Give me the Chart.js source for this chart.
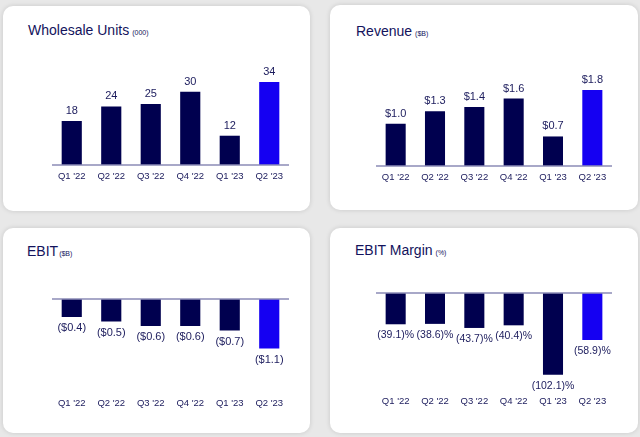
<!DOCTYPE html>
<html>
<head>
<meta charset="utf-8">
<script src="https://cdn.jsdelivr.net/npm/chart.js@4.4.0/dist/chart.umd.min.js"></script>
<style>
    body { margin: 0; width: 640px; height: 437px; background: #e8e8e8; overflow: hidden;
           font-family: "Liberation Sans", Arial, sans-serif; }
    .card { position: absolute; background: #fff; border-radius: 10px; box-shadow: 0 0 5px rgba(0,0,0,0.14); }
    .card canvas { position: absolute; left: 0; top: 0; }
    .title { position: absolute; font-size: 14px; line-height: 16px; color: #13135c; white-space: nowrap; }
    .title small { font-size: 7px; margin-left: 3px; }
</style>
</head>
<body>
<div class="card" style="left:3px;top:6px;width:307px;height:205px">
    <div class="title" style="left:25px;top:16px">Wholesale Units<small>(000)</small></div>
    <canvas id="units" width="307" height="205"></canvas>
</div>
<div class="card" style="left:330px;top:5px;width:308px;height:205px">
    <div class="title" style="left:26px;top:18px">Revenue<small>($B)</small></div>
    <canvas id="revenue" width="308" height="205"></canvas>
</div>
<div class="card" style="left:3px;top:228px;width:307px;height:205px">
    <div class="title" style="left:24px;top:15px">EBIT<small style="margin-left:1px">($B)</small></div>
    <canvas id="ebit" width="307" height="205"></canvas>
</div>
<div class="card" style="left:330px;top:228px;width:308px;height:205px">
    <div class="title" style="left:25px;top:14px">EBIT Margin<small>(%)</small></div>
    <canvas id="margin" width="308" height="205"></canvas>
</div>
<script>
const quarters = ["Q1 '22", "Q2 '22", "Q3 '22", "Q4 '22", "Q1 '23", "Q2 '23"];
const units = [18, 24, 25, 30, 12, 34];
const revenue = [1.0, 1.3, 1.4, 1.6, 0.7, 1.8];
const ebit = [-0.4, -0.5, -0.6, -0.6, -0.7, -1.1];
const margin = [-39.1, -38.6, -43.7, -40.4, -102.1, -58.9];

const NAVY = '#00004f';
const BLUE = '#1500f2';
const TEXT = '#1b1b5c';
const FONT = '"Liberation Sans", Arial, sans-serif';

const formats = {
    units: v => String(v),
    revenue: v => '$' + v.toFixed(1),
    ebit: v => '($' + Math.abs(v).toFixed(1) + ')',
    margin: v => '(' + Math.abs(v).toFixed(1) + ')%'
};

// zero line + value labels
const barLabels = {
    id: 'barLabels',
    afterDatasetsDraw(chart) {
        const ctx = chart.ctx;
        const area = chart.chartArea;
        const y0 = chart.scales.y.getPixelForValue(0);
        const fmt = formats[chart.canvas.id];
        const values = chart.data.datasets[0].data;

        ctx.save();
        ctx.strokeStyle = '#8b8bb6';
        ctx.lineWidth = 1.5;
        ctx.beginPath();
        ctx.moveTo(area.left, y0);
        ctx.lineTo(area.right, y0);
        ctx.stroke();

        // margin labels are wide, keep them a bit smaller so they don't touch
        ctx.font = (chart.canvas.id === 'margin' ? '10.5px ' : '11px ') + FONT;
        ctx.fillStyle = TEXT;
        ctx.textAlign = 'center';
        ctx.textBaseline = 'middle';
        chart.getDatasetMeta(0).data.forEach((bar, i) => {
            const v = values[i];
            const y = v >= 0 ? bar.y - 10 : bar.y + 11;
            ctx.fillText(fmt(v), bar.x, y);
        });
        ctx.restore();
    }
};

function createBar(id, values, yMin, yMax, padding) {
    const ctx = document.getElementById(id).getContext('2d');
    return new Chart(ctx, {
        type: 'bar',
        data: {
            labels: quarters,
            datasets: [{
                data: values,
                backgroundColor: values.map((v, i) => i === values.length - 1 ? BLUE : NAVY),
                barPercentage: 0.51,
                categoryPercentage: 1
            }]
        },
        options: {
            responsive: false,
            animation: false,
            layout: { padding },
            plugins: { legend: { display: false }, tooltip: { enabled: false } },
            scales: {
                x: {
                    grid: { display: false, drawTicks: false },
                    border: { display: false },
                    ticks: { color: TEXT, font: { size: 9.5, family: FONT }, padding: 6, maxRotation: 0, autoSkip: false },
                    afterFit(scale) { scale.height = 25; }
                },
                y: { display: false, min: yMin, max: yMax }
            }
        },
        plugins: [barLabels]
    });
}

createBar('units', units, 0, (159 - 20) / 2.44, { left: 49, right: 21, top: 20, bottom: 21 });
createBar('revenue', revenue, 0, (161 - 20) / 42.2, { left: 46, right: 26, top: 20, bottom: 19 });
createBar('ebit', ebit, -(164 - 71) / 45, 0, { left: 49, right: 21, top: 71, bottom: 16 });
createBar('margin', margin, -(162 - 65) / 0.8, 0, { left: 46, right: 26, top: 65, bottom: 18 });
</script>
</body>
</html>
